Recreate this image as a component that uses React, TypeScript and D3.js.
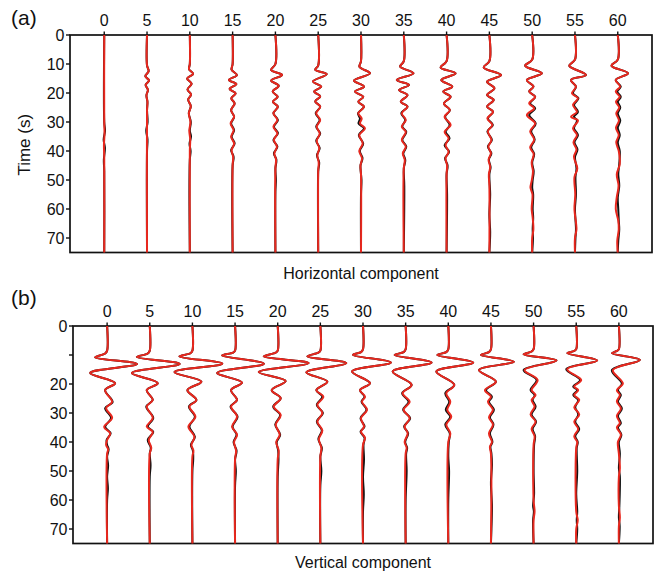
import React from "react";
import * as d3 from "d3";

type P = [number, number];

const distances = [0, 5, 10, 15, 20, 25, 30, 35, 40, 45, 50, 55, 60];
const timeTicks = [0, 10, 20, 30, 40, 50, 60, 70];
const hTimeLabels = ["0", "10", "20", "30", "40", "50", "60", "70"];
const vTimeLabels = ["0", "", "20", "30", "40", "50", "60", "70"];

// Horizontal component, synthetic (red): [time s, amplitude]
const hRed: P[][] = [
  [[0,0],[30,0],[34,0.3],[38,-0.3],[42,0],[75,0]],
  [[0,0],[10.5,0],[12.5,1.6],[14.2,-1.7],[15.7,2],[17.2,-1.4],[18.9,0.9],[20.8,-0.6],[23,0.4],[26,0],[75,0]],
  [[0,0],[10,0],[11.8,-0.8],[13.4,3.3],[15,-2.7],[16.8,1.8],[18.8,-2.3],[20.5,1.2],[22.3,-1.7],[24.5,1],[27,-1],[30,0.6],[33,-0.5],[36,0.4],[40,0],[75,0]],
  [[0,0],[10,0],[12,-1],[13.8,4.3],[15.5,-3.7],[16.9,3.7],[18.6,-3],[20.1,3],[21.8,-1.3],[23.6,2],[25.9,-1.5],[28.2,1.5],[30.5,-2],[32.8,1],[35.1,-1.5],[37.4,1.5],[39.7,-1],[42,0.5],[45,0],[75,0]],
  [[0,0],[10,0],[12.1,-4.3],[13.8,6.7],[15.7,-4.3],[17.5,3.3],[19.5,-2.7],[21.3,2.3],[23,-2.5],[24.7,2.5],[27,-2],[29.3,2],[31.6,-2],[33.9,2],[36.2,-1.5],[38.5,1.5],[40.8,-1],[43,0.6],[46,0],[75,0]],
  [[0,0],[10.5,0],[12,-3],[13.5,8.5],[16,-5.3],[17.8,3],[19.5,-4],[21.2,2],[22.9,-3],[24.7,2],[27,-2],[29.3,2],[31.6,-1.5],[34,1.5],[36.5,-1.5],[39,1],[41.5,-0.8],[44,0.5],[47,0],[75,0]],
  [[0,0],[9,0],[11,-1.5],[13.2,9],[15.7,-7],[17.8,3],[19.5,-6],[21.3,2.3],[23,-2.7],[24.7,3],[27,-2.7],[28.8,0.7],[30.5,-1],[32.2,4],[34.5,-1.7],[37.4,1.7],[40,-1.7],[42.5,1],[45,-0.5],[48,0],[75,0]],
  [[0,0],[9,0],[10.9,-3.7],[13.2,9.7],[15.5,-7],[17.2,5.3],[19,-4.7],[20.7,3.7],[23,-3],[24.7,3.7],[27,-2],[29.3,2],[31.6,-2],[33.4,2],[36.2,-2],[38.5,2],[40.8,-1],[43.1,1],[46,0],[75,0]],
  [[0,0],[9,0],[11.2,-6],[13.2,9],[15.5,-5.3],[17.8,5.7],[19.5,-3.3],[21.3,4],[23.6,-2.7],[25.9,3.3],[28.2,-2],[31,4],[33.4,-2],[35.6,2],[38,-1],[40.3,2],[42.5,-1],[45,0.5],[48,0],[75,0]],
  [[0,0],[9,0],[11.2,-5.7],[13.8,11.7],[16.1,-2.3],[18.4,5],[20.7,-2.3],[22.4,4.3],[24.7,-2.3],[26.5,3.7],[28.8,-2],[31,3],[33.2,-1.5],[36.2,2],[38.5,-1],[40.8,1.5],[43,-0.8],[45.5,0.8],[48,-0.5],[52,0],[75,0]],
  [[0,0],[8.5,0],[10.6,-7],[13.2,9.7],[15.5,-5.3],[17.8,1.3],[19.5,-3],[21.3,3],[23.6,-3],[25.3,2],[27.6,-5.3],[30.5,3],[33.2,-2],[36,2],[38.8,-2],[41,1.5],[44,-0.5],[47,0.8],[50,-0.3],[52.6,-1.7],[55,0.3],[60,-0.5],[63,0.5],[67,1.2],[70,0],[75,0]],
  [[0,0],[8.5,0],[10.6,-5.7],[13.8,11],[15.5,-4],[17.8,1],[20.1,-3],[21.8,3],[24.1,-2],[26.5,2],[28.2,-4],[29.5,3],[32.2,-2],[34.5,2],[37,-1.5],[39.5,1.5],[42,-1],[46,2.3],[49,-0.5],[55,0.3],[60,-0.5],[67,1.5],[70,0],[75,0]],
  [[0,0],[8.5,0],[10.6,-6.3],[13.2,10.3],[15.5,-2],[17.8,2.3],[19.5,-2],[21.3,2],[23,-1.8],[25,1.5],[27,-1.5],[29.5,1.2],[32,-1.8],[34.5,1],[37,-1.5],[40,1],[44.5,2],[48,-1],[52,0.8],[56,-1],[60,-2],[64,0.5],[67,1],[71,-0.5],[75,0]],
];

// Horizontal component, observed (black): later part of each trace [time s, amplitude]
const hBlackCoda: P[][] = [
  [[30,0],[33,0.8],[36,-0.6],[39,0.7],[43,-0.4],[47,0],[75,0]],
  [[26,0],[30,0.6],[33,-0.8],[36,0.5],[40,0],[75,0]],
  [[27,-1],[30,1],[33,0],[35,1.2],[37.5,-0.3],[40,0.8],[43,0],[75,0]],
  [[28.2,1.5],[30.5,-1.5],[32.8,1.5],[35.1,-1],[37.4,2],[39.7,-1.5],[42,1],[45,0],[75,0]],
  [[27,-2],[29.3,2.5],[31.6,-1.5],[33.9,2.5],[36.2,-2],[38.5,2],[40.8,-1.5],[43,1],[46,0],[50,0.5],[54,0],[75,0]],
  [[27,-2.5],[29.3,1.5],[31.6,-2],[34,2],[36.5,-2],[39,1.5],[41.5,-1.2],[44,1],[47,0],[75,0]],
  [[27,-3],[28.8,-1],[30.5,-2.5],[32.2,3],[34.5,-2.2],[37.4,2.2],[40,-1.2],[42.5,1.5],[45,-0.5],[50,0.5],[55,0],[75,0]],
  [[27,-2.5],[29.3,1.5],[31.6,-1.5],[33.4,2.5],[36.2,-1.5],[38.5,2.5],[40.8,-0.5],[43.1,1.5],[46,0],[52,0.5],[75,0]],
  [[28.2,-1.5],[31,3],[33.4,-1],[35.6,3],[38,-2],[40.3,2.5],[42.5,-1.5],[45,1],[48,0],[55,0.5],[75,0]],
  [[28.8,-1.5],[31,3.5],[33.2,-2],[36.2,2.5],[38.5,-1.5],[40.8,2],[43,-0.5],[45.5,1.2],[48,0],[55,0.8],[62,0],[68,0.8],[75,0]],
  [[23.6,-2],[25.3,3],[27.6,-3],[30.5,3.5],[33.2,-1],[36,2.5],[38.8,-1],[41,2],[44,0],[47,1.5],[50,0.5],[52.6,0],[55,1],[60,0.5],[63,1],[67,0.5],[70,0.8],[75,0]],
  [[20.1,-2],[21.8,3.5],[24.1,-1],[26.5,3],[28.2,-1],[29.5,2],[32.2,-1],[34.5,3],[37,-0.5],[39.5,2.5],[42,0],[46,1.5],[49,0.5],[55,1],[60,0],[67,1],[70,0.5],[75,0]],
  [[17.8,3],[19.5,-0.5],[21.3,3],[23,0],[25,2.5],[27,0],[29.5,2.5],[32,0],[34.5,2],[37,0],[40,2],[44.5,1.5],[48,0.5],[52,1.5],[56,0],[60,0.5],[64,1],[67,1.5],[71,0.5],[75,0]],
];

// Vertical component, synthetic (red)
const vRed: P[][] = [
  [[0,0],[8.5,0],[9.5,-2],[10.8,-12],[13.1,30],[16.2,-17],[19.7,8],[22.1,-2],[26.2,5],[28.3,-1],[31.7,5],[34.8,-3],[37,3],[39.3,0],[41,-1],[42.5,1],[44,0],[75,0]],
  [[0,0],[8.5,0],[9.5,-2],[10.7,-13],[13.1,30],[16.2,-18],[19.7,8],[22.1,-3],[25.5,3],[27.8,-3],[31.7,3],[34.7,-3],[36.5,3],[39.3,-1],[42,1.5],[44,0],[75,0]],
  [[0,0],[8.5,0],[9.4,-2],[10.5,-13],[13.0,30],[15.9,-18],[19.2,9],[22.1,-5],[25.5,4],[27.8,-3],[31.3,3],[34.7,-4],[38.2,2],[41,-1],[43,1],[45,0],[75,0]],
  [[0,0],[8.5,0],[9.2,-2],[10.2,-13],[13.0,29],[16.2,-18],[19.5,7],[22.1,-4],[25.5,2],[27.8,-4],[31.3,2],[34.7,-3],[37.5,2],[40,-1],[43,1],[46,0],[75,0]],
  [[0,0],[8.5,0],[9.2,-2],[10.5,-14],[12.8,31],[15.9,-19],[19,8],[22.1,-6],[24.9,3],[27.8,-4],[30.7,3],[34,-2],[37.5,2],[40,-1.5],[43,1],[46,0],[75,0]],
  [[0,0],[8.5,0],[9.2,-2],[10.5,-13],[12.8,26],[16.0,-14],[19.2,7],[22.1,-4],[24.4,3],[27.2,-3],[30,2],[33,-3],[36,2],[39,-1.5],[42,1],[45,0],[75,0]],
  [[0,0],[8,0],[9,-2],[10,-10],[12.6,28],[15.7,-11],[19.7,7],[22.1,-3],[24.4,2],[26.1,-1],[28.9,4],[31.8,-2],[34.7,1],[36.5,-2],[38.5,2],[41,0],[75,0]],
  [[0,0],[8,0],[9,-2],[10,-11],[12.6,26],[15.7,-13],[20.3,6],[23.2,-3],[26.1,4],[28.9,-2],[31.8,4],[34.7,-1],[37,2],[40,-1],[42,1],[44,0],[75,0]],
  [[0,0],[8,0],[9,-2],[10,-11],[12.6,25],[15.7,-12],[20.3,6],[23.2,-2],[26.1,2],[28.9,-1],[31.3,3],[34,-2],[37,2],[40,0],[75,0]],
  [[0,0],[8,0],[9,-2],[10,-10],[12.3,23],[15.2,-12],[19.2,5],[22.1,-6],[24.4,0],[26.1,-3],[28.9,2],[31.5,-2],[34,2],[37,-2],[40,1],[41.6,-1],[44,0],[75,0]],
  [[0,0],[8,0],[8.8,-2],[9.8,-10],[11.9,23],[15.2,-9],[18.6,4],[22.1,-2],[23.8,2],[25.5,-2],[27.8,1],[30.5,-3],[33,2],[35.5,-2],[38,1],[41,0],[60,0],[64,1],[67,0],[75,0]],
  [[0,0],[8,0],[8.6,-2],[9.4,-9],[11.9,21],[14.9,-9],[18.6,5],[20.9,-2],[22.1,2],[23.8,-2],[25.5,3],[28,-2],[30.5,3],[33,-2],[35.5,2],[38,-2],[40,1],[42,0],[64,0],[67,1.5],[70,0],[75,0]],
  [[0,0],[8,0],[8.6,-2],[9.4,-7],[11.7,21],[15.2,-6],[19.8,4],[22.1,-2],[23.8,1],[26,-2],[28.5,2],[31,-2],[33.5,1],[35,-2],[37.5,2],[40,-1],[44,0],[49,1],[52,0],[62,0],[66,1],[69,0],[75,0]],
];

// Vertical component, observed (black): later part of each trace
const vBlackCoda: P[][] = [
  [[26.2,5.5],[28.3,-2],[31.7,4],[34.8,-2],[37,3.5],[39.3,-0.5],[41,0],[42.5,1.5],[45,0],[48,1],[52,0],[56,0.8],[60,0],[75,0]],
  [[27.8,-3.5],[31.7,3.5],[34.7,-2],[36.5,3.5],[39.3,-2],[42,1],[44,0],[48,0.8],[52,0],[75,0]],
  [[27.8,-3.5],[31.3,2.5],[34.7,-3],[38.2,2.5],[41,-1.5],[43,0.5],[46,0.8],[50,0],[75,0]],
  [[27.8,-4.5],[31.3,2.5],[34.7,-2.5],[37.5,1.5],[40,-1.5],[43,1.5],[46,0],[50,0.8],[55,0],[75,0]],
  [[27.8,-4.5],[30.7,2.5],[34,-2.5],[37.5,2.5],[40,-1],[43,0.5],[46,0.8],[52,0],[75,0]],
  [[24.4,2],[27.2,-3.5],[30,2.5],[33,-3.5],[36,1.5],[39,-2],[42,1.5],[45,0],[50,1],[55,0],[75,0]],
  [[24.4,1.5],[26.1,-1.5],[28.9,3.5],[31.8,-2.5],[34.7,1.5],[36.5,-2.5],[38.5,1.5],[41,0.5],[46,1],[52,0],[58,0.8],[64,0],[75,0]],
  [[23.2,-3.5],[26.1,3],[28.9,-2.5],[31.8,4.5],[34.7,-1.5],[37,2.5],[40,-0.5],[42,1.5],[44,0.5],[50,1],[60,0],[75,0]],
  [[23.2,-3],[26.1,1],[28.9,-2.5],[31.3,2],[34,-3],[37,1.5],[40,0.5],[45,0],[50,0.8],[60,0],[75,0]],
  [[22.1,-5],[24.4,1],[26.1,-2],[28.9,3],[31.5,-1],[34,2.5],[37,-1],[40,1.5],[41.6,-0.5],[44,0.5],[48,1],[54,0],[62,1],[70,0.5],[75,0]],
  [[15.2,-10],[18.6,3],[22.1,-3],[23.8,1],[25.5,-1],[27.8,2],[30.5,-2],[33,2.5],[35.5,-1],[38,1.5],[41,0.5],[50,0],[58,0.5],[62,-0.5],[64,0.3],[67,-0.5],[75,0]],
  [[14.9,-10],[18.6,4],[20.9,-3],[22.1,1],[23.8,-3],[25.5,2],[28,-1],[30.5,2],[33,-1],[35.5,3],[38,-1],[40,1.5],[42,0.5],[50,1],[58,0],[64,1],[67,0.5],[70,1],[75,0]],
  [[15.2,-7],[19.8,3],[22.1,-1],[23.8,2],[26,-1],[28.5,3],[31,-1],[33.5,2],[35,-1],[37.5,2.5],[40,0],[44,1],[49,0],[52,1],[62,0.5],[66,0],[69,0.8],[75,0]],
];

const RED = "#e8281e";
const FONT = "'Liberation Sans', Arial, Helvetica, sans-serif";

function withCoda(red: P[], coda: P[]): P[] {
  const start = coda[0][0];
  return red.filter((p) => p[0] < start).concat(coda);
}

interface PanelProps {
  left: number;
  right: number;
  top: number;
  bottom: number;
  red: P[][];
  blackCoda: P[][];
  timeLabels: string[];
  letter: string;
  letterY: number;
  caption: string;
  captionY: number;
  showYTitle: boolean;
}

function Panel(props: PanelProps) {
  const { left, right, top, bottom, red, blackCoda, timeLabels, letter, letterY, caption, captionY, showYTitle } = props;
  const x = d3.scaleLinear().domain([-4, 64]).range([left, right]);
  const y = d3.scaleLinear().domain([0, 75]).range([top, bottom]);
  const amp = d3.scaleLinear().domain([0, 1]).range([0, 1 / 8.55]);

  const makeLine = (dist: number) =>
    d3
      .line<P>()
      .x((p) => x(dist + amp(p[1])))
      .y((p) => y(p[0]))
      .curve(d3.curveCatmullRom.alpha(0.5));

  return (
    <g>
      <text x={11} y={letterY} fontFamily={FONT} fontSize={21} fill="#111">
        {letter}
      </text>
      <rect x={left} y={top} width={right - left} height={bottom - top} fill="none" stroke="#111" strokeWidth={1.7} />
      {distances.map((d) => (
        <g key={"xt" + d}>
          <line x1={x(d)} x2={x(d)} y1={top} y2={top - 3.5} stroke="#111" strokeWidth={1.4} />
          <text x={x(d)} y={top - 9} textAnchor="middle" fontFamily={FONT} fontSize={16} fill="#111">
            {d}
          </text>
        </g>
      ))}
      {timeTicks.map((t, i) => (
        <g key={"yt" + t}>
          <line x1={left} x2={left - 4} y1={y(t)} y2={y(t)} stroke="#111" strokeWidth={1.4} />
          <text x={left - 5.5} y={y(t)} dy="0.36em" textAnchor="end" fontFamily={FONT} fontSize={16} fill="#111">
            {timeLabels[i]}
          </text>
        </g>
      ))}
      {showYTitle && (
        <text
          transform={`translate(30,${(top + bottom) / 2 + 1}) rotate(-90)`}
          textAnchor="middle"
          fontFamily={FONT}
          fontSize={17}
          fill="#111"
        >
          Time (s)
        </text>
      )}
      {distances.map((d, i) => (
        <path
          key={"b" + d}
          d={makeLine(d)(withCoda(red[i], blackCoda[i])) || ""}
          fill="none"
          stroke="#111"
          strokeWidth={2}
        />
      ))}
      {distances.map((d, i) => (
        <path key={"r" + d} d={makeLine(d)(red[i]) || ""} fill="none" stroke={RED} strokeWidth={2} />
      ))}
      <text x={(left + right) / 2} y={captionY} textAnchor="middle" fontFamily={FONT} fontSize={16} fill="#111">
        {caption}
      </text>
    </g>
  );
}

export default function App() {
  return (
    <svg
      width={658}
      height={574}
      style={{ position: "absolute", left: 0, top: 0, background: "#fff" }}
    >
      <rect x={0} y={0} width={658} height={574} fill="#fff" />
      <Panel
        left={70}
        right={652}
        top={35}
        bottom={252.5}
        red={hRed}
        blackCoda={hBlackCoda}
        timeLabels={hTimeLabels}
        letter="(a)"
        letterY={25}
        caption="Horizontal component"
        captionY={279}
        showYTitle={true}
      />
      <Panel
        left={73}
        right={653}
        top={326}
        bottom={543.5}
        red={vRed}
        blackCoda={vBlackCoda}
        timeLabels={vTimeLabels}
        letter="(b)"
        letterY={305}
        caption="Vertical component"
        captionY={568}
        showYTitle={false}
      />
    </svg>
  );
}
